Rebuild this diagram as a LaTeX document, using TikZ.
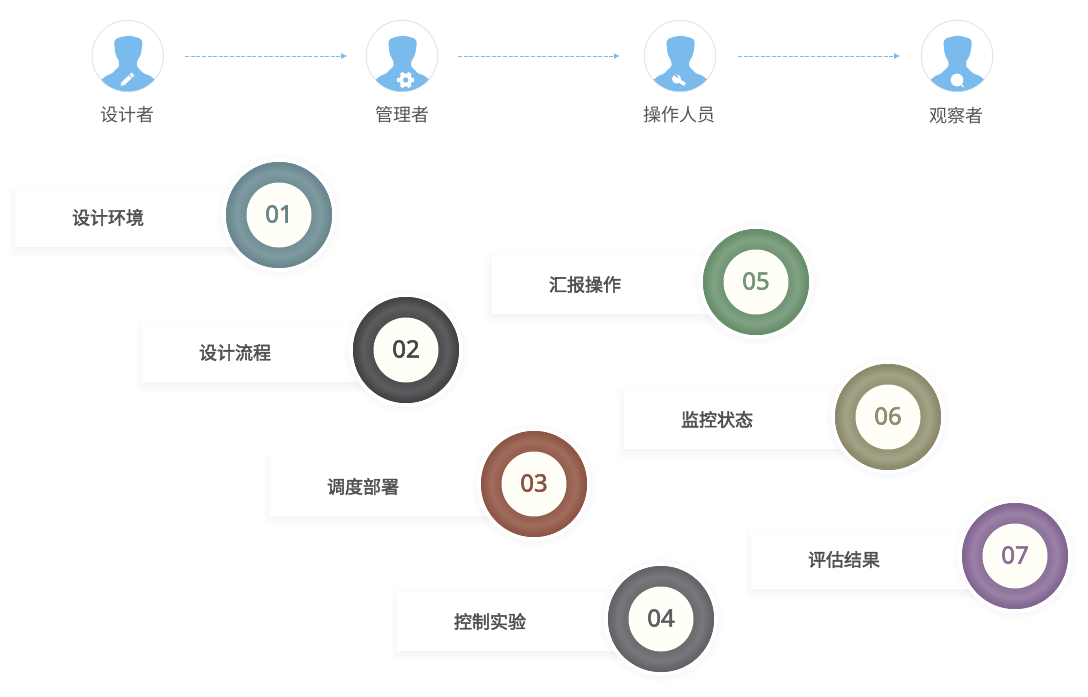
\documentclass[tikz,border=0pt]{standalone}
\usepackage{fontspec}
\setmainfont{Noto Sans CJK SC}
\newfontfamily\cjkmed[FakeBold=2.4]{Noto Sans CJK SC}
\newfontfamily\numfont[FakeBold=2.4]{Noto Sans}
\definecolor{sky}{HTML}{7ABBEE}
\definecolor{toptext}{HTML}{555555}
\definecolor{lbl}{HTML}{505050}
\definecolor{creamy}{HTML}{FFFEF7}
\usetikzlibrary{arrows.meta}
\definecolor{la}{HTML}{7F9BA2}\definecolor{da}{HTML}{67848C}
\definecolor{lb}{HTML}{5B5D5F}\definecolor{db}{HTML}{3E4042}
\definecolor{lc}{HTML}{A06C5C}\definecolor{dc}{HTML}{8A5243}
\definecolor{ld}{HTML}{79777C}\definecolor{dd}{HTML}{616065}
\definecolor{le}{HTML}{80A283}\definecolor{de}{HTML}{628B66}
\definecolor{lf}{HTML}{A4A385}\definecolor{df}{HTML}{87866A}
\definecolor{lg}{HTML}{9B81A6}\definecolor{dg}{HTML}{7E6290}
\tikzset{
  x=0.75pt,y=-0.75pt,
  avatar/.style={circle,draw=black!11,line width=0.7pt,fill=white,inner sep=0pt,minimum size=53.6pt},
  toplabel/.style={text=toptext,font=\fontsize{13.5pt}{16pt}\selectfont,inner sep=0pt},
  flow/.style={draw=sky,line width=0.75pt,dash pattern=on 3pt off 1.2pt,-{Latex[length=4.5pt,width=4.5pt]}},
  cardbox/.style={fill=white,inner sep=0pt,minimum height=44.25pt,anchor=west},
  cardlabel/.style={text=lbl,font=\cjkmed\fontsize{13.5pt}{16pt}\selectfont,inner sep=0pt},
  halo/.style={circle,fill=white,inner sep=0pt,minimum size=85.5pt},
  band/.style={circle,inner sep=0pt,minimum size=79.5pt},
  core/.style={circle,fill=creamy,inner sep=0pt,minimum size=48.75pt},
  numtext/.style={inner sep=0pt,font=\numfont\fontsize{18pt}{20pt}\selectfont},
}
% soft shadows: stacked translucent shapes
\newcommand{\softrect}[4]{%
  \foreach \s in {-2,...,7}{\fill[black,opacity=0.0045,rounded corners=3pt]
    (#1-\s,#2+4-\s) rectangle (#3+\s,#4+4+\s);}}
\newcommand{\softdisc}[3]{%
  \foreach \s in {1,...,6}{\fill[black,opacity=0.004] (#1,#2+1) circle[radius={(#3+\s)*0.75pt}];}}
% one person
\newcommand{\person}[1]{%
  \begin{scope}
    \clip (#1,56) circle[radius=26.6pt];
    \fill[sky,rounded corners=1pt] (#1+1,35.6)--(#1-5,36.6)--(#1-12,38.8)--(#1-13.8,43)--(#1-13,47)--(#1-12.6,53)--(#1-10.5,58)--(#1-8.6,61)--(#1-8.4,66.5)--(#1-13,70.5)--(#1-15.5,73.5)--(#1-21,75.5)--(#1-28,81)--(#1-28,94)--(#1+29,94)--(#1+29,81)--(#1+22,75.5)--(#1+16,73.5)--(#1+13,70.5)--(#1+9,66.5)--(#1+9.2,61)--(#1+11.5,58)--(#1+13.4,53)--(#1+14.4,47)--(#1+14.8,42)--(#1+13,38.6)--(#1+6,36.6)--cycle;
  \end{scope}}
\begin{document}
\begin{tikzpicture}
\useasboundingbox (0,0) rectangle (1088,696);
\fill[white] (0,0) rectangle (1088,696);
% --- avatars
\node[avatar] (av1) at (127.7,56) {};
\node[avatar] (av2) at (402,56) {};
\node[avatar] (av3) at (680,56) {};
\node[avatar] (av4) at (957,56) {};
\person{127.7}
\person{402}
\person{680}
\person{957}
% pencil
\draw[white,line width=3pt] (122.6,84) -- (130.2,76.8);
\draw[white,line width=3pt] (130.9,76.1) -- (133,74.1);
\fill[white] (120.7,85.8) -- (121.4,82.8) -- (123.8,85.2) -- cycle;
% gear
\foreach \a in {0,60,...,300}{\fill[white] (405.7,80) ++(\a:8.3) ++(\a+90:1.9) -- ++(\a+180:3) -- ++(\a-90:3.8) -- ++(\a:3) -- cycle;}
\fill[white] (405.7,80) circle[radius=4.9pt];
\fill[sky] (405.7,80) circle[radius=2pt];
% wrench
\draw[white,line width=2.6pt] (677,79.5) -- (685,84.5);
\fill[white] (676.5,79) circle[radius=3.4pt];
\fill[sky] (674.5,75.6) -- (678.4,78.2) -- (677,74.5) -- cycle;
% magnifier
\fill[white] (957,80) circle[radius=4.8pt];
\draw[white,line width=0.9pt] (961,84.5) -- (963.5,87);
% --- labels
\node[toplabel] (t1) at (127,115) {设计者};
\node[toplabel] (t2) at (402.5,115) {管理者};
\node[toplabel] (t3) at (679,115) {操作人员};
\node[toplabel] (t4) at (956,116) {观察者};
% --- arrows
\draw[flow,shorten <=16pt,shorten >=14pt] (av1) -- (av2);
\draw[flow,shorten <=15pt,shorten >=18pt] (av2) -- (av3);
\draw[flow,shorten <=16.5pt,shorten >=15.5pt] (av3) -- (av4);
% --- cards
\foreach \id/\letter/\bx/\by/\cx/\cy/\tx/\txt/\num/\numc in {
  1/a/15/188/279/215/108/设计环境/01/67848C,
  2/b/142/323/406/350/235/设计流程/02/444648,
  3/c/270/457/534/484/363/调度部署/03/8A5243,
  4/d/397/592/661/619/490/控制实验/04/5F5E63,
  5/e/492/255/756/282/585/汇报操作/05/6F9574,
  6/f/624/390/888/417/717/监控状态/06/8D8C6E,
  7/g/751/530/1015/556/844/评估结果/07/896C97}{
  \definecolor{numc}{HTML}{\numc}
  \softrect{\bx}{\by}{\bx+225}{\by+59}
  \node[cardbox,minimum width=168.75pt] (box\id) at (\bx,\by+29.5) {};
  \node[cardlabel] (lab\id) at (\tx,\by+29.5) {\txt};
  \softdisc{\cx}{\cy}{57}
  \node[halo] (halo\id) at (\cx,\cy) {};
  \node[band,fill=d\letter] (band\id) at (\cx,\cy) {};
  \foreach \r in {53,52.5,...,33}{
    \pgfmathsetmacro{\t}{max(15,min(100,min((53-\r)/10*100,45+(\r-33)/9*55)))}
    \fill[l\letter!\t!d\letter] (\cx,\cy) circle[radius={\r*0.75pt}];
  }
  \node[core] (core\id) at (\cx,\cy) {};
  \node[numtext,text=numc] (num\id) at (\cx,\cy-1) {\num};
}
\end{tikzpicture}
\end{document}
